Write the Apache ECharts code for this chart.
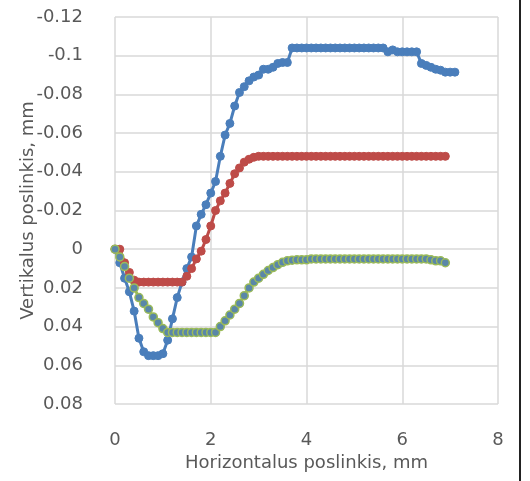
<!DOCTYPE html>
<html>
<head>
<meta charset="utf-8">
<script src="https://cdn.jsdelivr.net/npm/echarts@6/dist/echarts.min.js"></script>
<style>html,body{margin:0;padding:0;background:#fff;}#c{width:530px;height:481px;}</style>
</head>
<body>
<div id="c"></div>
<script>
var xTicks = [0, 2, 4, 6, 8];
var yTicks = [-0.12, -0.1, -0.08, -0.06, -0.04, -0.02, 0, 0.02, 0.04, 0.06, 0.08];

var blueX = [0,0.1,0.2,0.3,0.4,0.5,0.6,0.7,0.8,0.9,1.0,1.1,1.2,1.3,1.4,1.5,1.6,1.7,1.8,1.9,2.0,2.1,2.2,2.3,2.4,2.5,2.6,2.7,2.8,2.9,3.0,3.1,3.2,3.3,3.4,3.5,3.6,3.7,3.8,3.9,4.0,4.1,4.2,4.3,4.4,4.5,4.6,4.7,4.8,4.9,5.0,5.1,5.2,5.3,5.4,5.5,5.6,5.7,5.8,5.9,6.0,6.1,6.2,6.3,6.4,6.5,6.6,6.7,6.8,6.9,7.0,7.1];
var blueY = [0,0.007,0.015,0.022,0.032,0.046,0.053,0.055,0.055,0.055,0.054,0.047,0.036,0.025,0.017,0.010,0.004,-0.012,-0.018,-0.023,-0.029,-0.035,-0.048,-0.059,-0.065,-0.074,-0.081,-0.084,-0.087,-0.089,-0.090,-0.093,-0.093,-0.094,-0.096,-0.0965,-0.0965,-0.104,-0.104,-0.104,-0.104,-0.104,-0.104,-0.104,-0.104,-0.104,-0.104,-0.104,-0.104,-0.104,-0.104,-0.104,-0.104,-0.104,-0.104,-0.104,-0.104,-0.102,-0.103,-0.102,-0.102,-0.102,-0.102,-0.102,-0.096,-0.095,-0.094,-0.093,-0.0925,-0.0915,-0.0915,-0.0915];

var redX = [0,0.1,0.2,0.3,0.4,0.5,0.6,0.7,0.8,0.9,1.0,1.1,1.2,1.3,1.4,1.5,1.6,1.7,1.8,1.9,2.0,2.1,2.2,2.3,2.4,2.5,2.6,2.7,2.8,2.9,3.0,3.1,3.2,3.3,3.4,3.5,3.6,3.7,3.8,3.9,4.0,4.1,4.2,4.3,4.4,4.5,4.6,4.7,4.8,4.9,5.0,5.1,5.2,5.3,5.4,5.5,5.6,5.7,5.8,5.9,6.0,6.1,6.2,6.3,6.4,6.5,6.6,6.7,6.8,6.9];
var redY = [0,0.0,0.007,0.012,0.016,0.017,0.017,0.017,0.017,0.017,0.017,0.017,0.017,0.017,0.017,0.014,0.010,0.005,0.001,-0.005,-0.012,-0.020,-0.025,-0.029,-0.034,-0.039,-0.042,-0.045,-0.0465,-0.0475,-0.048,-0.048,-0.048,-0.048,-0.048,-0.048,-0.048,-0.048,-0.048,-0.048,-0.048,-0.048,-0.048,-0.048,-0.048,-0.048,-0.048,-0.048,-0.048,-0.048,-0.048,-0.048,-0.048,-0.048,-0.048,-0.048,-0.048,-0.048,-0.048,-0.048,-0.048,-0.048,-0.048,-0.048,-0.048,-0.048,-0.048,-0.048,-0.048,-0.048];

var greenX = [0,0.1,0.2,0.3,0.4,0.5,0.6,0.7,0.8,0.9,1.0,1.1,1.2,1.3,1.4,1.5,1.6,1.7,1.8,1.9,2.0,2.1,2.2,2.3,2.4,2.5,2.6,2.7,2.8,2.9,3.0,3.1,3.2,3.3,3.4,3.5,3.6,3.7,3.8,3.9,4.0,4.1,4.2,4.3,4.4,4.5,4.6,4.7,4.8,4.9,5.0,5.1,5.2,5.3,5.4,5.5,5.6,5.7,5.8,5.9,6.0,6.1,6.2,6.3,6.4,6.5,6.6,6.7,6.8,6.9];
var greenY = [0,0.004,0.009,0.015,0.020,0.025,0.028,0.031,0.035,0.038,0.041,0.043,0.043,0.043,0.043,0.043,0.043,0.043,0.043,0.043,0.043,0.043,0.040,0.037,0.034,0.031,0.028,0.024,0.020,0.017,0.015,0.013,0.011,0.0095,0.008,0.0068,0.006,0.0057,0.0055,0.0055,0.0055,0.005,0.005,0.005,0.005,0.005,0.005,0.005,0.005,0.005,0.005,0.005,0.005,0.005,0.005,0.005,0.005,0.005,0.005,0.005,0.005,0.005,0.005,0.005,0.005,0.005,0.0055,0.006,0.006,0.007];

function pairs(xs, ys) { return xs.map(function (x, i) { return [x, ys[i]]; }); }

var chart = echarts.init(document.getElementById('c'), null, { renderer: 'canvas' });
var font = 'DejaVu Sans';
var txt = '#595959';
var gridColor = '#d9d9d9';

chart.setOption({
  animation: false,
  backgroundColor: '#ffffff',
  grid: { left: 115, right: 32, top: 17, bottom: 77 },
  xAxis: {
    type: 'value', min: xTicks[0], max: xTicks[xTicks.length - 1], interval: 2,
    name: 'Horizontalus poslinkis, mm', nameLocation: 'middle', nameGap: 46,
    nameTextStyle: { color: txt, fontSize: 18, fontFamily: font },
    axisLine: { show: false }, axisTick: { show: false },
    axisLabel: { color: txt, fontSize: 18, fontFamily: font, margin: 27 },
    splitLine: { show: true, lineStyle: { color: gridColor, width: 1.5 } }
  },
  yAxis: {
    type: 'value', inverse: true, min: yTicks[0], max: yTicks[yTicks.length - 1], interval: 0.02,
    name: 'Vertikalus poslinkis, mm', nameLocation: 'middle', nameGap: 78, nameMoveOverlap: false,
    nameTextStyle: { color: txt, fontSize: 18, fontFamily: font },
    axisLine: { show: false }, axisTick: { show: false },
    axisLabel: { color: txt, fontSize: 18, fontFamily: font, margin: 32,
      formatter: function (v) { return String(parseFloat(v.toFixed(4))); } },
    splitLine: { show: true, lineStyle: { color: gridColor, width: 1.5 } }
  },
  graphic: [{
    type: 'line', shape: { x1: 520, y1: 0, x2: 520, y2: 481 },
    style: { stroke: '#222222', lineWidth: 2 }
  }],
  series: [
    { type: 'line', data: pairs(blueX, blueY), symbol: 'circle', symbolSize: 8,
      lineStyle: { color: '#4a7ebb', width: 3 },
      itemStyle: { color: '#4a7ebb', borderColor: '#4a7ebb' } },
    { type: 'line', data: pairs(redX, redY), symbol: 'circle', symbolSize: 8,
      lineStyle: { color: '#be4b48', width: 3 },
      itemStyle: { color: '#be4b48', borderColor: '#be4b48' } },
    { type: 'line', data: pairs(greenX, greenY), symbol: 'circle', symbolSize: 8,
      lineStyle: { color: '#9bbb59', width: 3 },
      itemStyle: { color: '#5a87a8', borderColor: '#9bbb59', borderWidth: 1.5 } }
  ]
});
</script>
</body>
</html>
